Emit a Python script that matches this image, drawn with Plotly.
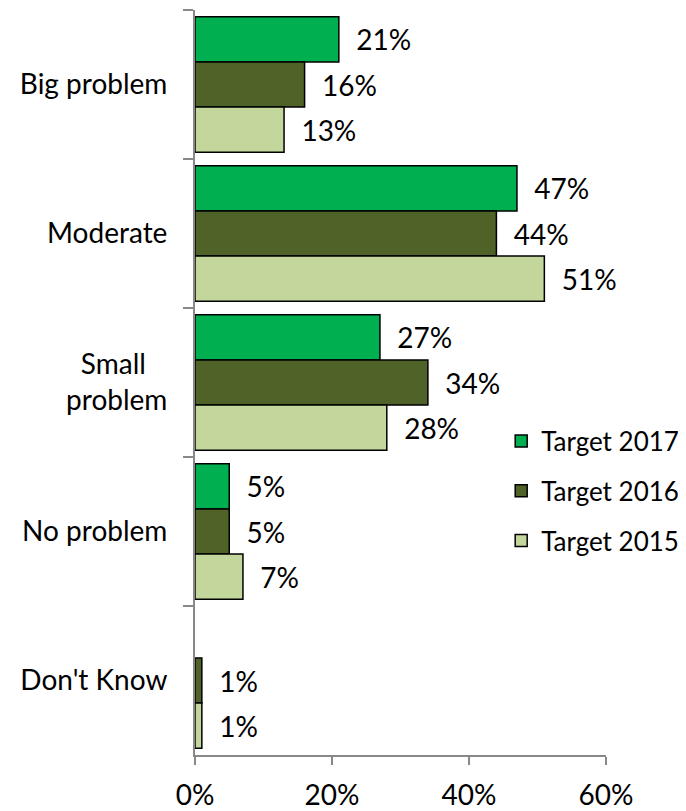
import plotly.graph_objects as go

categories = ["Big problem", "Moderate", "Small&nbsp;&nbsp;&nbsp;<br>problem", "No problem", "Don't Know"]
series_names = ["Target 2017", "Target 2016", "Target 2015"]
values_2017 = [21, 47, 27, 5, 0]
values_2016 = [16, 44, 34, 5, 1]
values_2015 = [13, 51, 28, 7, 1]
colors = ["#00B050", "#4F6228", "#C3D69B"]
x_ticks = [0, 20, 40, 60]
x_tick_labels = ["0%", "20%", "40%", "60%"]

FONT = "Lato, Carlito, Calibri, sans-serif"
FS = 28

fig = go.Figure()
for name, vals, col in zip(series_names, [values_2017, values_2016, values_2015], colors):
    fig.add_trace(go.Bar(
        y=categories, x=[v if v else None for v in vals], name=name, orientation="h",
        marker=dict(color=col, line=dict(color="black", width=1.5)),
        text=[f"  {v}%" if v else "" for v in vals],
        textposition="outside", cliponaxis=False,
        textfont=dict(size=FS, color="black", family=FONT),
        legendgroup=name,
    ))

fig.update_layout(
    width=678, height=803,
    margin=dict(l=187, r=80, t=2, b=56, autoexpand=False),
    plot_bgcolor="white", paper_bgcolor="white",
    barmode="group", bargap=0.09, bargroupgap=0,
    font=dict(family=FONT, size=FS, color="black"),
    showlegend=True,
    legend=dict(x=0.745, y=0.453, xanchor="left", yanchor="top",
                font=dict(size=FS - 2, family=FONT), tracegroupgap=13,
                itemwidth=30, bgcolor="rgba(0,0,0,0)"),
    xaxis=dict(range=[0, 60], tickvals=x_ticks, ticktext=x_tick_labels,
               showgrid=False, zeroline=False, showline=True, linecolor="#888888",
               linewidth=2, ticks="outside", ticklen=8, tickcolor="#888888", tickwidth=2,
               tickfont=dict(size=FS), ticklabelstandoff=6, automargin=False),
    yaxis=dict(autorange="reversed", showgrid=False, showline=True, linecolor="#888888",
               linewidth=2, ticks="outside", ticklen=10, tickcolor="#888888", tickwidth=2,
               tickson="boundaries", ticklabelstandoff=20, tickfont=dict(size=FS),
               automargin=False),
)

fig.write_html("out.html")
